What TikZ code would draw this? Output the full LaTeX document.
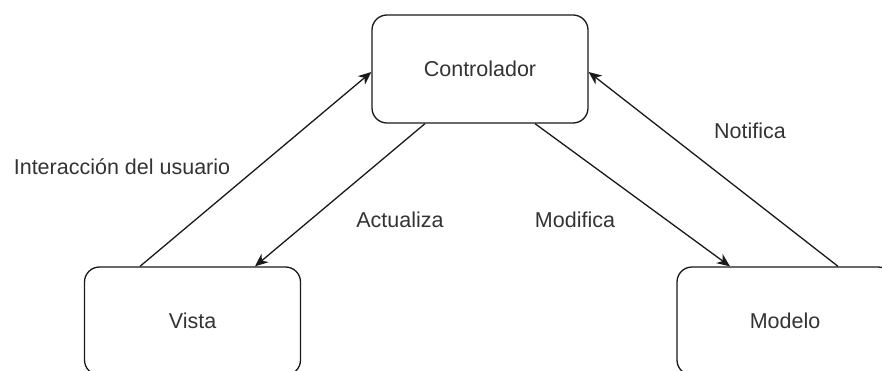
\documentclass[tikz,border=0pt]{standalone}
\usepackage{fontspec}
\setmainfont{Liberation Sans}
\usetikzlibrary{arrows.meta}
\begin{document}
\begin{tikzpicture}[x=1pt,y=-1pt,
  txt/.style={font=\fontsize{21.5}{24}\selectfont, text=black!80},
  box/.style={txt, draw=black!90, line width=1.3pt, rounded corners=15pt,
    minimum width=216pt, minimum height=108pt, inner sep=0pt},
  link/.style={draw=black!90, line width=1.3pt, -{Stealth[length=13pt,width=11pt,inset=4pt]}},
  lbl/.style={txt, inner sep=0pt}]
\useasboundingbox (0,0) rectangle (882,371);
\clip (0,0) rectangle (882,371);

% the three components
\node[box] (ctrl)   at (480,69)    {Controlador};
\node[box] (vista)  at (192.5,321) {Vista};
\node[box] (modelo) at (785,321)   {Modelo};

% interactions between them
\draw[link] ([xshift=-52.5pt]vista.north) -- ([yshift=-3pt]ctrl.west);
\draw[link] ([xshift=-55pt]ctrl.south) -- ([xshift=62.5pt]vista.north);
\draw[link] ([xshift=55pt]ctrl.south) -- ([xshift=-55pt]modelo.north);
\draw[link] ([xshift=53pt]modelo.north) -- ([yshift=-3pt]ctrl.east);

% labels
\node[lbl] (linter) at (122,167) {Interacción del usuario};
\node[lbl] (lact)   at (400,220) {Actualiza};
\node[lbl] (lmod)   at (575,220) {Modifica};
\node[lbl] (lnot)   at (750,131) {Notifica};
\end{tikzpicture}
\end{document}
